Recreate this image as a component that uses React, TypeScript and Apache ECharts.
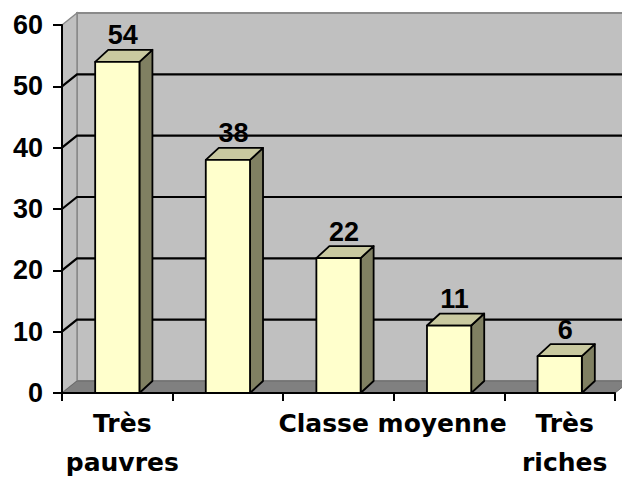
import React, { useEffect, useRef } from 'react';
import * as echarts from 'echarts';

const categories = ['Très\npauvres', '', 'Classe moyenne', '', 'Très\nriches'];
const values = [54, 38, 22, 11, 6];
const yTicks = [0, 10, 20, 30, 40, 50, 60];

const FONT = '"Liberation Sans", Arial, Helvetica, sans-serif';
const XFONT = '"DejaVu Sans", "Liberation Sans", Arial, sans-serif';
const WALL_DX = 15;
const WALL_DY = -12;
const BAR_DX = 13;
const BAR_DY = -12;
const LABEL_SHIFT = [10, 0, 108, 0, 10];

export default function App() {
  const ref = useRef<HTMLDivElement>(null);
  useEffect(() => {
    const chart = echarts.init(ref.current!, null, { renderer: 'svg' });
    const yMax = yTicks[yTicks.length - 1];

    const wallItem = (_params: any, api: any) => {
      const half = api.size([1, 0])[0] / 2;
      const x0 = api.coord([0, 0])[0] - half;
      const x1 = api.coord([categories.length - 1, 0])[0] + half;
      const yb = api.coord([0, 0])[1];
      const yt = api.coord([0, yMax])[1];
      const children: any[] = [];
      children.push({
        type: 'rect',
        shape: { x: x0 + WALL_DX, y: yt + WALL_DY, width: x1 - x0 + 20, height: yb - yt },
        style: { fill: '#c0c0c0', stroke: '#8a8a8a', lineWidth: 2 },
      });
      children.push({
        type: 'polygon',
        shape: { points: [[x0, yb], [x0, yt], [x0 + WALL_DX, yt + WALL_DY], [x0 + WALL_DX, yb + WALL_DY]] },
        style: { fill: '#c0c0c0', stroke: '#8a8a8a', lineWidth: 1.5 },
      });
      children.push({
        type: 'polygon',
        shape: { points: [[x0, yb], [x0 + WALL_DX, yb + WALL_DY], [x1 + WALL_DX, yb + WALL_DY], [x1, yb]] },
        style: { fill: '#808080', stroke: '#6a6a6a', lineWidth: 1 },
      });
      yTicks.forEach((v) => {
        if (v === 0 || v === yMax) return;
        const y = api.coord([0, v])[1];
        children.push({
          type: 'polyline',
          shape: { points: [[x0, y], [x0 + WALL_DX, y + WALL_DY], [x1 + WALL_DX + 20, y + WALL_DY]] },
          style: { stroke: '#000', lineWidth: 2.2, fill: null },
        });
      });
      return { type: 'group', children };
    };

    const barItem = (_params: any, api: any) => {
      const i = api.value(0);
      const v = api.value(1);
      const [cx, yTop] = api.coord([i, v]);
      const yBase = api.coord([i, 0])[1];
      const w = api.size([1, 0])[0] * 0.4;
      const xl = cx - w / 2;
      const xr = cx + w / 2;
      const edge = { stroke: '#000', lineWidth: 1.8, lineJoin: 'round' };
      return {
        type: 'group',
        children: [
          {
            type: 'polygon',
            shape: { points: [[xr, yTop], [xr + BAR_DX, yTop + BAR_DY], [xr + BAR_DX, yBase + BAR_DY], [xr, yBase]] },
            style: { fill: '#808062', ...edge },
          },
          {
            type: 'polygon',
            shape: { points: [[xl, yTop], [xl + BAR_DX, yTop + BAR_DY], [xr + BAR_DX, yTop + BAR_DY], [xr, yTop]] },
            style: { fill: '#c9c9a0', ...edge },
          },
          {
            type: 'rect',
            shape: { x: xl, y: yTop, width: w, height: yBase - yTop },
            style: { fill: '#ffffcc', ...edge },
          },
          {
            type: 'text',
            x: cx + BAR_DX / 2 - 1,
            y: yTop + BAR_DY - 1,
            style: {
              text: String(v),
              fill: '#000',
              font: `bold 27px ${FONT}`,
              align: 'center',
              verticalAlign: 'bottom',
            },
          },
        ],
      };
    };

    chart.setOption({
      animation: false,
      backgroundColor: '#ffffff',
      grid: { left: 62, right: 7, top: 25, bottom: 84, outerBoundsMode: 'none' },
      xAxis: {
        type: 'category',
        data: categories.map((c, i) => ({
          value: c,
          textStyle: { padding: [0, 0, 0, LABEL_SHIFT[i]] },
        })),
        boundaryGap: true,
        axisLine: { show: true, lineStyle: { color: '#000', width: 2 } },
        axisTick: { show: true, length: 8, lineStyle: { color: '#000', width: 2 } },
        axisLabel: {
          interval: 0,
          color: '#000',
          fontSize: 25,
          fontWeight: 'bold',
          fontFamily: XFONT,
          lineHeight: 39,
          margin: 11,
        },
        splitLine: { show: false },
      },
      yAxis: {
        type: 'value',
        min: 0,
        max: yMax,
        interval: 10,
        axisLine: { show: true, lineStyle: { color: '#000', width: 2 } },
        axisTick: { show: true, length: 9, lineStyle: { color: '#000', width: 2 } },
        axisLabel: {
          color: '#000',
          fontSize: 27,
          fontWeight: 'bold',
          fontFamily: FONT,
          margin: 19,
        },
        splitLine: { show: false },
      },
      series: [
        {
          type: 'custom',
          z: -1,
          renderItem: wallItem,
          data: [[0, 0]],
          encode: { x: 0, y: 1 },
          silent: true,
        },
        {
          type: 'custom',
          z: 3,
          renderItem: barItem,
          data: values.map((v, i) => [i, v]),
          encode: { x: 0, y: 1 },
        },
      ],
    });
    return () => chart.dispose();
  }, []);
  return (
    <div
      ref={ref}
      style={{ position: 'fixed', left: 0, top: 0, width: 622, height: 477, background: '#fff' }}
    />
  );
}
